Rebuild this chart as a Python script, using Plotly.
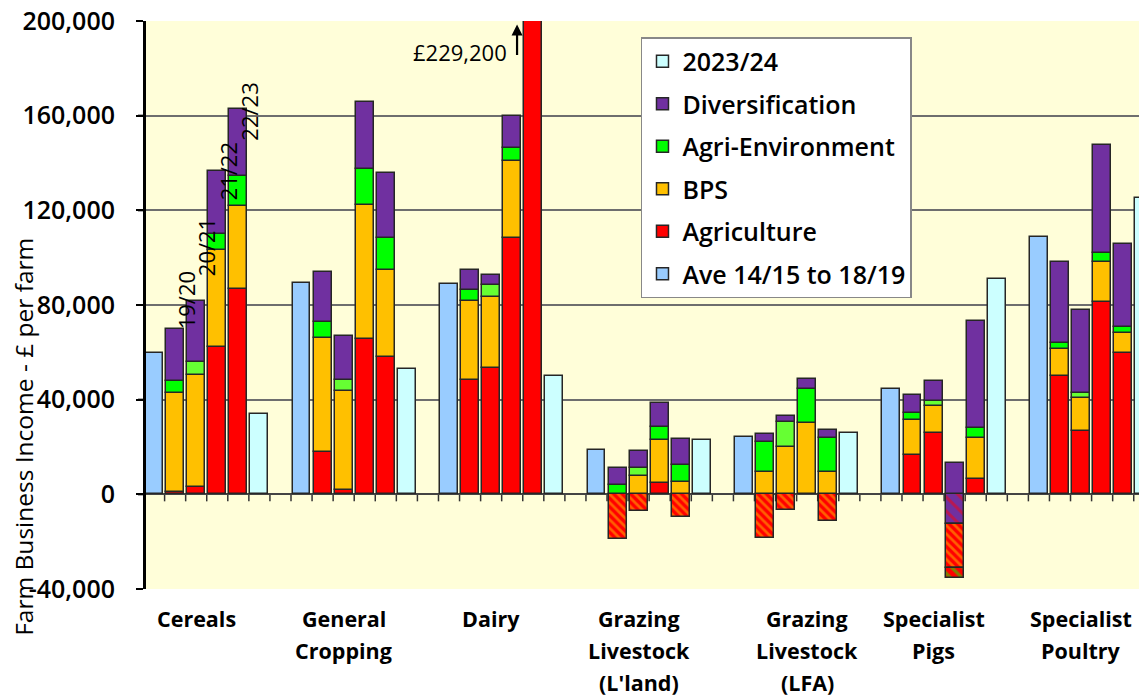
import plotly.graph_objects as go

# ---------------- data ----------------
groups = ["Cereals", "General<br>Cropping", "Dairy", "Grazing<br>Livestock<br>(L'land)",
          "Grazing<br>Livestock<br>(LFA)", "Specialist<br>Pigs", "Specialist<br>Poultry"]
years = ["19/20", "20/21", "21/22", "22/23"]

ave_14_19 = [59600, 89200, 88800, 18800, 24400, 44600, 108900]
fbi_2023_24 = [34000, 53000, 50100, 23000, 25900, 91000, 125100]

# per group: [19/20, 20/21, 21/22, 22/23]
agriculture = [
    [1000, 3000, 62400, 86700],
    [17800, 1900, 65700, 58000],
    [48200, 53300, 108500, 229200],
    [0, 0, 4700, 0],
    [0, 0, 0, 0],
    [16700, 25900, 0, 6400],
    [49800, 26800, 81200, 59700],
]
bps = [
    [42000, 47400, 40900, 35300],
    [48400, 41800, 56600, 36800],
    [33300, 30000, 32500, 0],
    [0, 7800, 18300, 5200],
    [9600, 19800, 30100, 9600],
    [14800, 11500, 0, 17600],
    [11700, 13800, 16900, 8400],
]
agri_env = [
    [5000, 5700, 6600, 12600],
    [6800, 4700, 15100, 13700],
    [4800, 5200, 5500, 0],
    [4000, 3500, 5600, 7100],
    [12700, 10700, 14300, 14400],
    [2800, 2200, 0, 4200],
    [2400, 2200, 3800, 2400],
]
diversification = [
    [22000, 25400, 26900, 28300],
    [21100, 18600, 28300, 27200],
    [8300, 4100, 13500, 0],
    [7100, 7100, 10200, 11000],
    [3100, 2800, 4300, 3200],
    [7700, 8500, 13400, 45200],
    [34200, 35000, 45800, 35300],
]
# negative agriculture offset against the other income sources (hatched)
neg_vs_div = [
    [0, 0, 0, 0], [0, 0, 0, 0], [0, 0, 0, 0], [0, 0, 0, 0], [0, 0, 0, 0],
    [0, 0, -12600, 0], [0, 0, 0, 0],
]
neg_vs_bps = [
    [0, 0, 0, 0], [0, 0, 0, 0], [0, 0, 0, 0],
    [-18800, -7000, 0, -9600],
    [-18500, -6500, 0, -11200],
    [0, 0, -18700, 0], [0, 0, 0, 0],
]
neg_vs_ae = [
    [0, 0, 0, 0], [0, 0, 0, 0], [0, 0, 0, 0], [0, 0, 0, 0], [0, 0, 0, 0],
    [0, 0, -4100, 0], [0, 0, 0, 0],
]
dairy_peak_label = "£229,200"

y_tickvals = [-40000, 0, 40000, 80000, 120000, 160000, 200000]
y_ticktext = ["-40,000", "0", "40,000", "80,000", "120,000", "160,000", "200,000"]
label_offset = [2, 2, 2, 2, 3, 2, 2]

# ---------------- layout helpers ----------------
SLOTS = 7
BW = 0.85
EDGE = "#262626"


def xs_years():
    return [g * SLOTS + 1 + j for g in range(len(groups)) for j in range(4)]


def flat(v):
    return [(val if val != 0 else None) for row in v for val in row]


fig = go.Figure()

fig.add_trace(go.Bar(
    x=[g * SLOTS for g in range(len(groups))], y=ave_14_19, name="Ave 14/15 to 18/19",
    marker=dict(color="#99CCFF", line=dict(color=EDGE, width=1.5)), width=BW,
    legendgroup="ave", legendrank=6))

fig.add_trace(go.Bar(
    x=xs_years(), y=flat(agriculture), name="Agriculture",
    marker=dict(color="#FF0000", line=dict(color=EDGE, width=1.5)), width=BW,
    legendgroup="agri", legendrank=5))

fig.add_trace(go.Bar(
    x=xs_years(), y=flat(neg_vs_div), showlegend=False,
    marker=dict(color="#7030A0", line=dict(color=EDGE, width=1.5),
                pattern=dict(shape="\\", fgcolor="#FF0000", bgcolor="#7030A0",
                             size=10, solidity=0.3, fillmode="overlay")),
    width=BW))
fig.add_trace(go.Bar(
    x=xs_years(), y=flat(neg_vs_bps), showlegend=False,
    marker=dict(color="#FF0000", line=dict(color=EDGE, width=1.5),
                pattern=dict(shape="\\", fgcolor="#FFC000", bgcolor="#FF0000",
                             size=6, solidity=0.45, fillmode="overlay")),
    width=BW))
fig.add_trace(go.Bar(
    x=xs_years(), y=flat(neg_vs_ae), showlegend=False,
    marker=dict(color="#FF0000", line=dict(color=EDGE, width=1.5),
                pattern=dict(shape="\\", fgcolor="#00FF00", bgcolor="#FF0000",
                             size=8, solidity=0.4, fillmode="overlay")),
    width=BW))

fig.add_trace(go.Bar(
    x=xs_years(), y=flat(bps), name="BPS",
    marker=dict(color="#FFC000", line=dict(color=EDGE, width=1.5)), width=BW,
    legendgroup="bps", legendrank=4))

ae_colors = ["#66FF33" if j == 1 else "#00FF00" for g in range(len(groups)) for j in range(4)]
fig.add_trace(go.Bar(
    x=xs_years(), y=flat(agri_env), name="Agri-Environment",
    marker=dict(color=ae_colors, line=dict(color=EDGE, width=1.5)), width=BW,
    legendgroup="ae", legendrank=3))

fig.add_trace(go.Bar(
    x=xs_years(), y=flat(diversification), name="Diversification",
    marker=dict(color="#7030A0", line=dict(color=EDGE, width=1.5)), width=BW,
    legendgroup="div", legendrank=2))

fig.add_trace(go.Bar(
    x=[g * SLOTS + 5 for g in range(len(groups))], y=fbi_2023_24, name="2023/24",
    marker=dict(color="#CCFFFF", line=dict(color=EDGE, width=1.5)), width=BW,
    legendgroup="latest", legendrank=1))

YMIN, YMAX = -40000, 200000
XMIN, XMAX = -0.43, 47.13

fig.update_layout(
    width=1147, height=697,
    margin=dict(l=137, r=8, t=13, b=116),
    barmode="relative",
    plot_bgcolor="#FFFED9",
    paper_bgcolor="white",
    font=dict(family="Open Sans", color="black"),
    xaxis=dict(range=[XMIN, XMAX], showgrid=False, zeroline=False,
               showline=False, showticklabels=False, ticks="", automargin=False),
    yaxis=dict(range=[YMIN, YMAX], tickvals=y_tickvals, ticktext=y_ticktext,
               showgrid=True, gridcolor="#6E6E6E", gridwidth=1.5,
               zeroline=True, zerolinecolor="#444", zerolinewidth=1.5,
               showline=True, linecolor="black", linewidth=2,
               ticks="outside", ticklen=7, tickwidth=2, tickcolor="black",
               ticklabelstandoff=16, automargin=False, ticklabeloverflow="allow",
               tickfont=dict(family="Open Sans", size=25, weight=600, color="black")),
    legend=dict(x=0.495, y=0.9718, xanchor="left", yanchor="top",
                bgcolor="white", bordercolor="#888", borderwidth=1.5,
                traceorder="grouped", tracegroupgap=7,
                font=dict(family="Open Sans", size=25, weight=600, color="black")),
    bargap=0,
)

# axis decorations as shapes: left axis line, its ticks, and small ticks under the zero line
shapes = [dict(type="line", xref="paper", yref="paper", x0=0, x1=0, y0=0, y1=1,
               line=dict(color="black", width=2), layer="above")]
for tv in y_tickvals:
    shapes.append(dict(type="line", xref="paper", yref="y", xsizemode="pixel", xanchor=0,
                       x0=-7, x1=0, y0=tv, y1=tv, line=dict(color="black", width=2),
                       layer="above"))
k = -0.5
while k <= XMAX:
    if k >= XMIN:
        shapes.append(dict(type="line", xref="x", yref="y", ysizemode="pixel", yanchor=0,
                           x0=k, x1=k, y0=0, y1=-7, line=dict(color="#333", width=1.5),
                           layer="below"))
    k += 1
fig.update_layout(shapes=shapes)

annotations = []
annotations.append(dict(text="Farm Business Income - £ per farm", xref="paper", yref="paper",
                        x=0, y=0.268, xshift=-121, textangle=-90, showarrow=False,
                        font=dict(family="Open Sans", size=24.5, color="black"),
                        xanchor="center", yanchor="middle"))
for g, lab in enumerate(groups):
    for kk, line in enumerate(lab.split("<br>")):
        annotations.append(dict(text=line, x=g * SLOTS + label_offset[g], xref="x",
                                y=0, yref="paper", yshift=-29 - 32 * kk,
                                showarrow=False, xanchor="center", yanchor="middle",
                                font=dict(family="Open Sans", size=21.5, weight="bold",
                                          color="black")))
cer_tops = [sum(v[j] for v in (agriculture[0], bps[0], agri_env[0], diversification[0]))
            for j in range(4)]
year_shift = [28, 54, -1, -3]
for j, yr in enumerate(years):
    annotations.append(dict(text=yr, x=1 + j + 0.5, xref="x", y=cer_tops[j], yref="y",
                            textangle=-90, showarrow=False, xanchor="center",
                            yanchor="middle", yshift=year_shift[j],
                            font=dict(family="Open Sans", size=22, color="black")))
dairy_x = 2 * SLOTS + 4
annotations.append(dict(text=dairy_peak_label, x=dairy_x - 1.16, xref="x", y=187000, yref="y",
                        showarrow=False, xanchor="right", yanchor="middle",
                        font=dict(family="Open Sans", size=22, color="black")))
annotations.append(dict(text="", x=dairy_x - 0.77, y=198500, xref="x", yref="y",
                        showarrow=True, ax=0, ay=32, arrowhead=2, arrowsize=1,
                        arrowwidth=2.2, arrowcolor="black"))
fig.update_layout(annotations=annotations)

fig.write_html("out.html")
